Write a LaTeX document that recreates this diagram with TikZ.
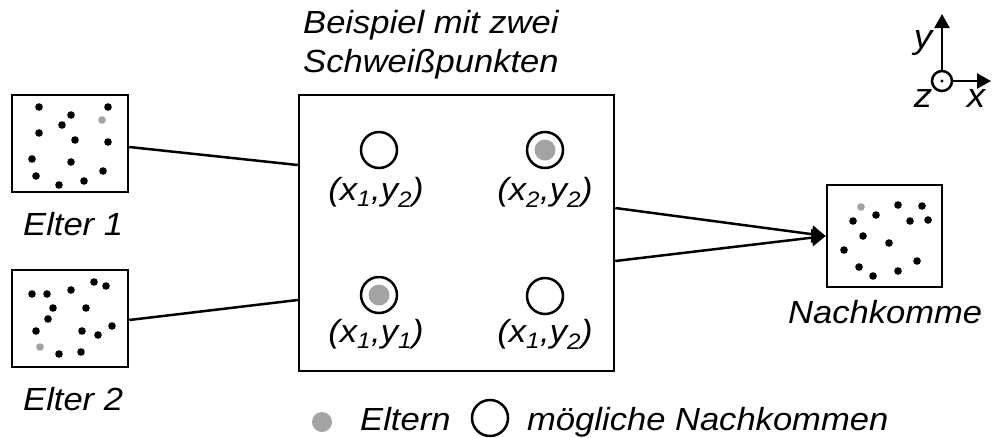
\documentclass[tikz,border=0pt]{standalone}
\usepackage{fontspec}
\setmainfont{Liberation Sans}
\usetikzlibrary{arrows.meta,calc}
\definecolor{dotgray}{RGB}{163,163,163}
\newcommand{\wx}[1]{\scalebox{1.08}[1]{#1}}
\begin{document}
\begin{tikzpicture}[x=1pt,y=-1pt,
  box/.style={draw, line width=2.5pt, rectangle, inner sep=0pt},
  lbl/.style={font=\fontsize{32}{38}\selectfont\itshape, inner sep=0pt, anchor=base west},
  clbl/.style={font=\fontsize{32}{38}\selectfont\itshape, inner sep=0pt, anchor=base},
  axl/.style={font=\fontsize{34}{40}\selectfont\itshape, inner sep=0pt},
  conn/.style={line width=2.5pt},
  tip/.style={-{Triangle[length=14pt,width=17pt]}},
  ring/.style={draw, line width=2.5pt, circle, minimum size=36pt, inner sep=0pt},
  gfill/.style={fill=dotgray, circle, minimum size=21pt, inner sep=0pt, draw=none}
]
\useasboundingbox (0,0) rectangle (992,437);

% boxes
\node[box, minimum width=116pt, minimum height=97pt] (e1) at (70,143.5) {};
\node[box, minimum width=116pt, minimum height=97pt] (e2) at (70,318.5) {};
\node[box, minimum width=115pt, minimum height=102pt] (nk) at (884.5,236) {};
\node[box, minimum width=315pt, minimum height=276pt] (main) at (456.5,233) {};

% dots in Elter 1
\foreach \p in {{39,107},{108,107},{71,115},{62,125},{39,133},{75,140},{108,142},{32,159},{71,162},{103,171},{36,176},{84,181},{59,185}}
  \fill (\p) circle[radius=3.8];
\fill[dotgray] (102,120) circle[radius=3.8];
% dots in Elter 2
\foreach \p in {{94,282},{106,286},{32,294},{47,294},{71,290},{53,308},{86,308},{48,319},{36,331},{82,331},{112,326},{98,335},{59,354},{81,352}}
  \fill (\p) circle[radius=3.8];
\fill[dotgray] (40,347) circle[radius=3.8];
% dots in Nachkomme
\foreach \p in {{898,205},{922,206},{876,215},{853,221},{910,221},{928,220},{863,236},{889,243},{844,250},{917,261},{859,267},{898,271},{873,276}}
  \fill (\p) circle[radius=3.8];
\fill[dotgray] (861,207) circle[radius=3.8];

% rings in main box
\node[ring] (c1) at (379,150) {};
\node[gfill] (g2) at (545,150) {};
\node[ring] (c2) at (545,150) {};
\node[gfill] (g3) at (379,295) {};
\node[ring] (c3) at (379,295) {};
\node[ring] (c4) at (545,296) {};

\node[clbl] (p1) at (376,200) {\wx{(x\textsubscript{1},y\textsubscript{2})}};
\node[clbl] (p2) at (545,200) {\wx{(x\textsubscript{2},y\textsubscript{2})}};
\node[clbl] (p3) at (376,342) {\wx{(x\textsubscript{1},y\textsubscript{1})}};
\node[clbl] (p4) at (545,342) {\wx{(x\textsubscript{1},y\textsubscript{2})}};

% texts
\node[lbl] (t1) at (303,33) {\wx{Beispiel mit zwei}};
\node[lbl] (t2) at (303,72) {\wx{Schweißpunkten}};
\node[lbl] (l1) at (23,235) {\wx{Elter 1}};
\node[lbl] (l2) at (23,410) {\wx{Elter 2}};
\node[lbl] (l3) at (788,323) {\wx{Nachkomme}};

% connectors
\draw[conn] ($(e1.east)+(0,3.5)$) -- ($(main.west)+(0,-68)$);
\draw[conn] ($(e2.east)+(0,1.5)$) -- ($(main.west)+(0,67)$);
\draw[conn,tip] ($(main.east)+(0,-25)$) -- (nk.west);
\draw[conn,tip] ($(main.east)+(0,28)$) -- (nk.west);

% legend
\node[gfill, minimum size=20pt] (lg) at (322,422) {};
\node[lbl] (lt1) at (360,430) {\wx{Eltern}};
\node[ring] (lc) at (490,418) {};
\node[lbl] (lt2) at (527,430) {\wx{mögliche Nachkommen}};

% axes
\node[draw, circle, line width=2.5pt, minimum size=20pt, inner sep=0pt] (zc) at (942,81) {};
\fill (zc.center) circle[radius=1.7];
\coordinate (ytip) at (942,14);
\coordinate (xtip) at (991,81);
\draw[conn,-{Triangle[length=14pt,width=15pt]}] (zc.north) -- (ytip);
\draw[conn,-{Triangle[length=14pt,width=15pt]}] (zc.east) -- (xtip);
\node[axl] (ay) at (923,43) {\wx{y}};
\node[axl] (az) at (923,99) {\wx{z}};
\node[axl] (ax) at (976,99) {\wx{x}};
\end{tikzpicture}
\end{document}
